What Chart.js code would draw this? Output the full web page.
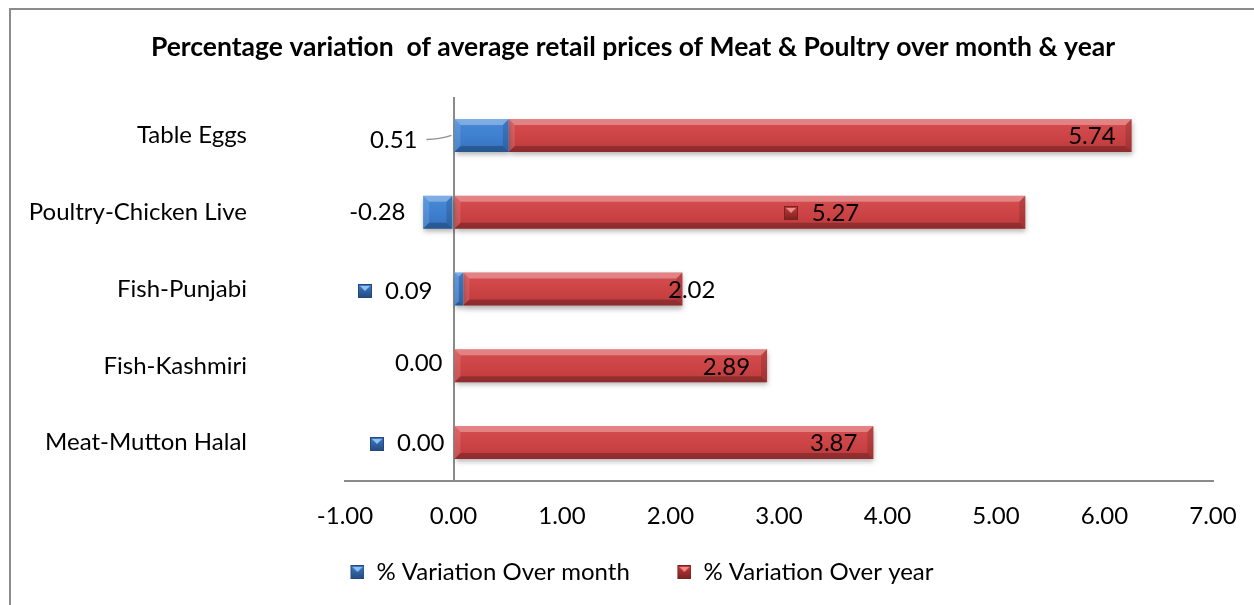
<!DOCTYPE html>
<html>
<head>
<meta charset="utf-8">
<title>Meat &amp; Poultry price variation</title>
<script src="https://cdn.jsdelivr.net/npm/chart.js@4.4.0/dist/chart.umd.min.js"></script>
<style>
    html, body { margin: 0; padding: 0; background: #fff; }
    #wrap { width: 1254px; height: 605px; overflow: hidden; }
</style>
</head>
<body>
<div id="wrap"><canvas id="priceChart" width="1254" height="605"></canvas></div>
<script>
"use strict";

/*---------------------------------------------------
  Data
---------------------------------------------------*/
var categories = ["Table Eggs", "Poultry-Chicken Live", "Fish-Punjabi", "Fish-Kashmiri", "Meat-Mutton Halal"];
var overMonth = [0.51, -0.28, 0.09, 0.00, 0.00];
var overYear = [5.74, 5.27, 2.02, 2.89, 3.87];
var seriesNames = ["% Variation Over month", "% Variation Over year"];
var axisMin = -1, axisMax = 7, axisStep = 1;
var chartTitle = "Percentage variation  of average retail prices of Meat & Poultry over month & year";

// where Excel left each data label (px from zero line / bar end), some were dragged by hand
var monthLabelShift = [-36, -48, -21, -11, -9];
var monthLabelDrop = [5, 0, 2, -3, 1];
var monthLabelKey = [false, false, true, false, true];
var monthLabelLeader = [true, false, false, false, false];
var yearLabelShift = [-16, -166, 33, -17, -16];
var yearLabelKey = [false, true, false, false, false];

var FONT = "Lato";
var AXIS_GREY = "#8a8a8a";
var BAR_SHARE = 0.43;
var BEVEL = 6;

var redStops = [[0, "#d84f51"], [0.5, "#cd4446"], [1, "#bd3a3c"]];
var blueStops = [[0, "#4a8bd8"], [0.5, "#3f80cf"], [1, "#3572bf"]];

// vertical gradient sized to each bar
function barGradient(stops) {
    return function (ctx) {
        var chart = ctx.chart;
        var yScale = chart.scales.y;
        if (ctx.type !== "data" || !yScale) {
            return stops[1][1];
        }
        var half = (yScale.height / categories.length) * BAR_SHARE / 2;
        var mid = yScale.getPixelForValue(ctx.dataIndex);
        var g = chart.ctx.createLinearGradient(0, mid - half, 0, mid + half);
        stops.forEach(function (s) { g.addColorStop(s[0], s[1]); });
        return g;
    };
}

// small pyramid-ish keys; lead = empty space on the left (used to widen legend gaps)
function makeKey(light, mid, dark, lead) {
    var size = 14;
    var c = document.createElement("canvas");
    c.width = size + lead;
    c.height = size;
    var g = c.getContext("2d");
    g.translate(lead, 0);
    var grad = g.createLinearGradient(0, 0, 0, size);
    grad.addColorStop(0, mid);
    grad.addColorStop(1, dark);
    g.fillStyle = grad;
    g.fillRect(0, 0, size, size);
    g.fillStyle = light;
    g.beginPath();
    g.moveTo(2, 2);
    g.lineTo(size - 2, 2);
    g.lineTo(size / 2, size / 2);
    g.closePath();
    g.fill();
    g.strokeStyle = dark;
    g.lineWidth = 1;
    g.strokeRect(0.5, 0.5, size - 1, size - 1);
    return c;
}

var KEY_LEAD = 18;
var keyIcons = [
    makeKey("#8fc0f4", "#3f7cc8", "#24497d", 0),
    makeKey("#f08a8a", "#c43c3d", "#7a2121", 0)
];
var legendIcons = [
    makeKey("#8fc0f4", "#3f7cc8", "#24497d", KEY_LEAD),
    makeKey("#f08a8a", "#c43c3d", "#7a2121", KEY_LEAD)
];

function drawKey(ctx, img, cx, cy) {
    ctx.drawImage(img, Math.round(cx - img.width / 2), Math.round(cy - img.height / 2));
}

function fillQuad(ctx, pts, color) {
    ctx.fillStyle = color;
    ctx.beginPath();
    ctx.moveTo(pts[0], pts[1]);
    ctx.lineTo(pts[2], pts[3]);
    ctx.lineTo(pts[4], pts[5]);
    ctx.lineTo(pts[6], pts[7]);
    ctx.closePath();
    ctx.fill();
}

/*---------------------------------------------------
  Frame, shadows, bevels and data labels
---------------------------------------------------*/
var excelLook = {
    id: "excelLook",
    beforeDraw: function (chart) {
        var ctx = chart.ctx;
        ctx.save();
        ctx.fillStyle = "#fff";
        ctx.fillRect(0, 0, chart.width, chart.height);
        ctx.strokeStyle = "#8c8c8c";
        ctx.lineWidth = 2;
        ctx.strokeRect(10, 9, chart.width + 40, chart.height + 40);
        ctx.restore();
    },
    beforeDatasetsDraw: function (chart) {
        var ctx = chart.ctx;
        ctx.save();
        ctx.shadowColor = "rgba(0,0,0,0.30)";
        ctx.shadowBlur = 5;
        ctx.shadowOffsetX = 1;
        ctx.shadowOffsetY = 3;
    },
    afterDatasetsDraw: function (chart) {
        var ctx = chart.ctx;
        ctx.restore();

        // bevelled frame on every bar segment
        chart.data.datasets.forEach(function (ds, di) {
            chart.getDatasetMeta(di).data.forEach(function (bar) {
                var l = Math.min(bar.x, bar.base);
                var r = Math.max(bar.x, bar.base);
                if (r - l < 1) {
                    return;
                }
                var t = bar.y - bar.height / 2;
                var b = bar.y + bar.height / 2;
                var d = Math.min(BEVEL, (r - l) / 2, bar.height / 2);
                ctx.save();
                fillQuad(ctx, [l, t, r, t, r - d, t + d, l + d, t + d], "rgba(255,255,255,0.30)");
                fillQuad(ctx, [l, b, r, b, r - d, b - d, l + d, b - d], "rgba(0,0,0,0.24)");
                fillQuad(ctx, [l, t, l + d, t + d, l + d, b - d, l, b], "rgba(255,255,255,0.12)");
                fillQuad(ctx, [r, t, r - d, t + d, r - d, b - d, r, b], "rgba(0,0,0,0.14)");
                ctx.restore();
            });
        });

        // data labels
        var zero = chart.scales.x.getPixelForValue(0);
        var monthBars = chart.getDatasetMeta(0).data;
        var yearBars = chart.getDatasetMeta(1).data;
        ctx.save();
        ctx.font = "24px " + FONT;
        ctx.fillStyle = "#000";
        ctx.textAlign = "right";
        ctx.textBaseline = "middle";

        overMonth.forEach(function (v, i) {
            var txt = v.toFixed(2);
            var right = zero + monthLabelShift[i];
            var y = monthBars[i].y + monthLabelDrop[i];
            ctx.fillText(txt, right, y);
            if (monthLabelKey[i]) {
                drawKey(ctx, keyIcons[0], right - ctx.measureText(txt).width - 20, y);
            }
            if (monthLabelLeader[i]) {
                ctx.save();
                ctx.strokeStyle = "#909090";
                ctx.lineWidth = 1.5;
                ctx.beginPath();
                ctx.moveTo(right + 9, y - 1);
                ctx.quadraticCurveTo(right + 22, y - 1, zero - 2, y - 5);
                ctx.stroke();
                ctx.restore();
            }
        });

        overYear.forEach(function (v, i) {
            var txt = v.toFixed(2);
            var right = yearBars[i].x + yearLabelShift[i];
            var y = yearBars[i].y + 1;
            ctx.fillText(txt, right, y);
            if (yearLabelKey[i]) {
                drawKey(ctx, keyIcons[1], right - ctx.measureText(txt).width - 21, y);
            }
        });
        ctx.restore();
    }
};

/*---------------------------------------------------
  Chart
---------------------------------------------------*/
var tickFont = { family: FONT, size: 24 };

var priceChart = new Chart(document.getElementById("priceChart"), {
    type: "bar",
    data: {
        labels: categories,
        datasets: [
            {
                label: seriesNames[0],
                data: overMonth,
                backgroundColor: barGradient(blueStops),
                borderWidth: 0,
                barPercentage: BAR_SHARE,
                categoryPercentage: 1
            },
            {
                label: seriesNames[1],
                data: overYear,
                backgroundColor: barGradient(redStops),
                borderWidth: 0,
                barPercentage: BAR_SHARE,
                categoryPercentage: 1
            }
        ]
    },
    options: {
        indexAxis: "y",
        responsive: false,
        animation: false,
        layout: {
            padding: { left: 12, right: 0, top: 0, bottom: 11 }
        },
        scales: {
            x: {
                stacked: true,
                min: axisMin,
                max: axisMax,
                ticks: {
                    stepSize: axisStep,
                    padding: 20.6,
                    font: tickFont,
                    color: "#000",
                    callback: function (v) { return Number(v).toFixed(2); }
                },
                grid: {
                    drawTicks: false,
                    lineWidth: 2,
                    color: function (c) {
                        return c.tick && c.tick.value === 0 ? AXIS_GREY : "rgba(0,0,0,0)";
                    }
                },
                border: { display: true, color: AXIS_GREY, width: 2 },
                afterFit: function (scale) {
                    scale.height = 49.4;
                    scale.paddingLeft = 0;
                    scale.paddingRight = 0;
                }
            },
            y: {
                stacked: true,
                grid: { display: false, drawTicks: false },
                border: { display: false },
                ticks: { padding: 98, font: tickFont, color: "#000" },
                afterFit: function (scale) {
                    scale.width = 333;
                    scale.paddingTop = 0;
                    scale.paddingBottom = 0;
                }
            },
            // empty strip on the right so the plot stops at 7.00 like the original
            rightGap: {
                type: "linear",
                position: "right",
                display: true,
                grid: { display: false, drawTicks: false },
                border: { display: false },
                ticks: { display: false },
                afterFit: function (scale) {
                    scale.width = 41;
                    scale.paddingTop = 0;
                    scale.paddingBottom = 0;
                }
            }
        },
        plugins: {
            title: {
                display: true,
                text: chartTitle,
                color: "#000",
                font: { family: FONT, size: 26.5, weight: "bold" },
                padding: { top: 31.1, bottom: 34.1 }
            },
            legend: {
                position: "bottom",
                labels: {
                    usePointStyle: true,
                    pointStyleWidth: 14 + KEY_LEAD,
                    padding: 29.6,
                    font: tickFont,
                    color: "#000",
                    generateLabels: function (chart) {
                        return chart.data.datasets.map(function (ds, i) {
                            return {
                                text: ds.label,
                                pointStyle: legendIcons[i],
                                fillStyle: "transparent",
                                strokeStyle: "transparent",
                                lineWidth: 0,
                                hidden: false,
                                fontColor: "#000",
                                datasetIndex: i
                            };
                        });
                    }
                }
            },
            tooltip: { enabled: false }
        }
    },
    plugins: [excelLook]
});
</script>
</body>
</html>
